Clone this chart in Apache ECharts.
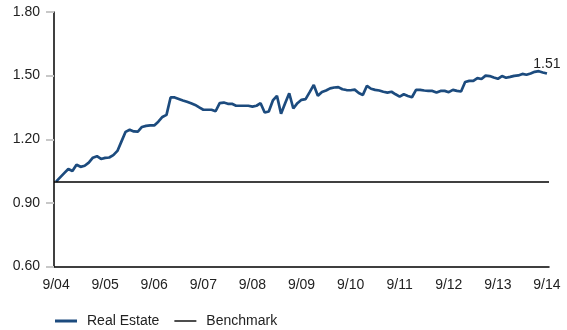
<!DOCTYPE html>
<html>
<head>
<meta charset="utf-8">
<script src="https://cdn.jsdelivr.net/npm/echarts@6/dist/echarts.min.js"></script>
<style>
  html, body { margin: 0; padding: 0; background: #fff; }
  #chart { width: 567px; height: 330px; }
</style>
</head>
<body>
<div id="chart"></div>
<script>
// Growth of $1, monthly, Sep 2004 – Sep 2014
var startYear = 2004;
var startMonth = 9;
var tickLabels = ['9/04', '9/05', '9/06', '9/07', '9/08', '9/09', '9/10', '9/11', '9/12', '9/13', '9/14'];

var realEstate = [
  1.000, 1.020, 1.040, 1.060, 1.050, 1.080, 1.070, 1.075, 1.090, 1.113, 1.120, 1.107,
  1.112, 1.114, 1.125, 1.145, 1.190, 1.235, 1.245, 1.237, 1.236, 1.258, 1.263, 1.265,
  1.265, 1.283, 1.305, 1.315, 1.397, 1.397, 1.390, 1.383, 1.377, 1.370, 1.362, 1.350,
  1.339, 1.339, 1.339, 1.332, 1.370, 1.373, 1.367, 1.367, 1.358, 1.358, 1.358, 1.358,
  1.354, 1.358, 1.370, 1.326, 1.331, 1.383, 1.405, 1.320, 1.370, 1.417, 1.345, 1.370,
  1.386, 1.389, 1.422, 1.456, 1.405, 1.423, 1.430, 1.440, 1.444, 1.446, 1.436, 1.432,
  1.431, 1.434, 1.418, 1.409, 1.452, 1.438, 1.433, 1.430, 1.424, 1.420, 1.424, 1.412,
  1.401, 1.412, 1.404, 1.398, 1.433, 1.433, 1.430, 1.428, 1.428, 1.420, 1.428, 1.428,
  1.422, 1.433, 1.428, 1.425, 1.470, 1.475, 1.475, 1.488, 1.484, 1.500, 1.498, 1.491,
  1.485, 1.498, 1.490, 1.494, 1.499, 1.501, 1.508, 1.504, 1.510, 1.518, 1.521, 1.515,
  1.510
];

var benchmarkLevel = [1.00];

// Month labels "M/YY" for each observation
var months = realEstate.map(function (_, i) {
  var m = (startMonth - 1 + i) % 12 + 1;
  var y = startYear + Math.floor((startMonth - 1 + i) / 12);
  return m + '/' + String(y).slice(2);
});

var lastIdx = realEstate.length - 1;
var font = 'Liberation Sans, Arial, sans-serif';
var blue = '#1c4b7e';

var chart = echarts.init(document.getElementById('chart'), null, { renderer: 'canvas' });

chart.setOption({
  animation: false,
  backgroundColor: '#fff',
  textStyle: { fontFamily: font },
  grid: { left: 54, right: 18, top: 12, bottom: 63.5, containLabel: false },
  legend: {
    left: 50, top: 309,
    itemWidth: 22, itemHeight: 14, itemGap: 15,
    textStyle: { fontSize: 14, color: '#222', fontFamily: font, padding: [0, 0, 0, 5] },
    data: [
      { name: 'Real Estate', icon: 'path://M0,0H22V3H0Z' },
      { name: 'Benchmark', icon: 'path://M0,0H22V1.4H0Z' }
    ]
  },
  xAxis: {
    type: 'category',
    data: months,
    boundaryGap: true,
    axisLine: { lineStyle: { color: '#000', width: 1.5 } },
    axisTick: {
      alignWithLabel: true, interval: 11, length: 7,
      lineStyle: { color: '#c8c8c8', width: 2 }
    },
    axisLabel: {
      interval: 11, margin: 12, fontSize: 14, color: '#222', fontFamily: font,
      formatter: function (val, idx) { return tickLabels[idx / 12]; }
    },
    splitLine: { show: false }
  },
  yAxis: {
    type: 'value',
    min: 0.6, max: 1.8, interval: 0.3,
    axisLine: { show: true, lineStyle: { color: '#000', width: 1.5 } },
    axisTick: { show: true, length: 8, lineStyle: { color: '#c8c8c8', width: 2 } },
    axisLabel: {
      margin: 14, fontSize: 14, color: '#222', fontFamily: font,
      formatter: function (v) { return v.toFixed(2); }
    },
    splitLine: { show: false }
  },
  series: [
    {
      name: 'Real Estate',
      type: 'line',
      data: realEstate,
      symbol: 'none',
      lineStyle: { color: blue, width: 2.7 },
      itemStyle: { color: blue },
      markPoint: {
        silent: true,
        symbol: 'circle',
        symbolSize: 0,
        label: {
          show: true, position: 'top', distance: 2,
          color: '#222', fontSize: 14, fontFamily: font,
          formatter: function (p) { return Number(p.value).toFixed(2); }
        },
        data: [{ coord: [lastIdx, realEstate[lastIdx]], value: realEstate[lastIdx] }]
      },
      z: 3
    },
    {
      name: 'Benchmark',
      type: 'line',
      data: [],
      symbol: 'none',
      lineStyle: { color: '#000', width: 1.5 },
      itemStyle: { color: '#000' },
      markLine: {
        silent: true,
        symbol: ['none', 'none'],
        label: { show: false },
        lineStyle: { color: '#000', width: 1.5, type: 'solid' },
        data: [{ yAxis: benchmarkLevel[0] }]
      },
      z: 2
    }
  ]
});
</script>
</body>
</html>
